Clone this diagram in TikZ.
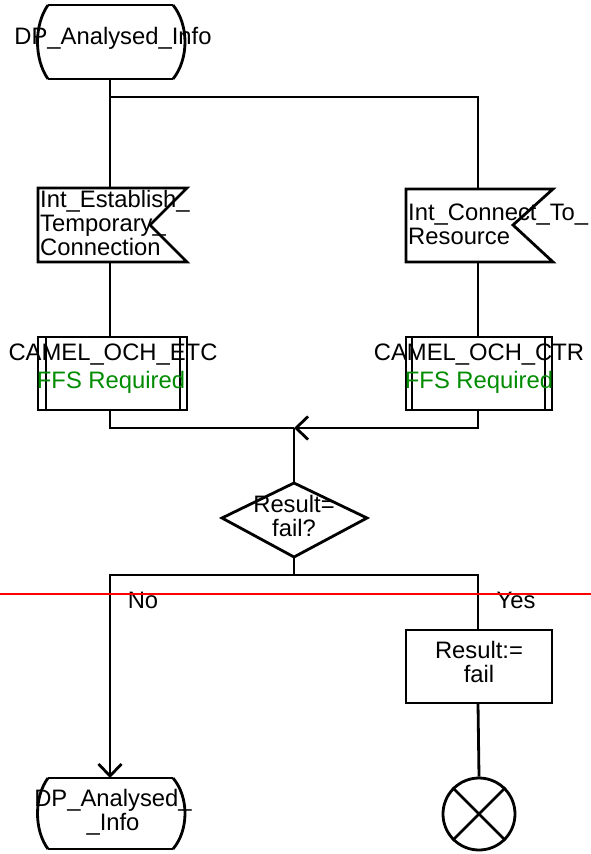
\documentclass[tikz,border=0pt]{standalone}
\usepackage{fontspec}
\setmainfont{Liberation Sans}
\usetikzlibrary{arrows.meta}
\definecolor{ffsgreen}{RGB}{0,140,0}
\tikzset{
  ln/.style={line width=2.8pt},
  txt/.style={font=\fontsize{23.8}{24}\selectfont, inner sep=0pt, align=center},
  vee/.style={-{Straight Barb[length=12pt,width=23pt,line width=2.8pt]}},
}
\begin{document}
\begin{tikzpicture}[x=1pt,y=-1pt]
\useasboundingbox (0,0) rectangle (591,854);
\fill[white] (0,0) rectangle (591,854);

% ---- top state
\draw[ln] (48,5) -- (173,5) (48,79) -- (173,79);
\draw[ln] (48,5) .. controls (34,25) and (34,59) .. (48,79);
\draw[ln] (173,5) .. controls (189,25) and (189,59) .. (173,79);
\node[txt] (st1) at (113,38) {DP\_Analysed\_Info};
\coordinate (st1b) at (110,79);
\coordinate (split) at (110,97);

% ---- input signals
\draw[ln] (38,188) -- (187,188) -- (150,225) -- (187,262) -- (38,262) -- cycle;
\node[txt, align=left, anchor=west] (in1) at (40,223) {Int\_Establish\_\\Temporary\_\\Connection};
\coordinate (in1t) at (110,188);
\coordinate (in1b) at (110,262);

\draw[ln] (406,189) -- (553,189) -- (513,225) -- (553,262) -- (406,262) -- cycle;
\node[txt, align=left, anchor=west] (in2) at (408,224) {Int\_Connect\_To\_\\Resource};
\coordinate (in2t) at (478,189);
\coordinate (in2b) at (478,262);

% ---- procedures
\draw[ln] (38,337) rectangle (187,410) (46,337) -- (46,410) (180,337) -- (180,410);
\node[txt] (p1) at (113,355) {CAMEL\_OCH\_ETC};
\node[txt, text=ffsgreen] (p1f) at (111,382) {FFS Required};
\coordinate (p1t) at (110,337);
\coordinate (p1b) at (110,410);

\draw[ln] (406,337) rectangle (552,410) (412,337) -- (412,410) (545,337) -- (545,410);
\node[txt] (p2) at (479,355) {CAMEL\_OCH\_CTR};
\node[txt, text=ffsgreen] (p2f) at (479,382) {FFS Required};
\coordinate (p2t) at (478,337);
\coordinate (p2b) at (478,410);

\coordinate (merge) at (294,428);

% ---- decision
\draw[ln] (294,483) -- (367,518) -- (294,557) -- (222,518) -- cycle;
\node[txt] (dec) at (294,516) {Result=\\fail?};
\coordinate (dect) at (294,483);
\coordinate (decb) at (294,557);
\coordinate (dsplit) at (294,575);
\node[txt] (no) at (143,600) {No};
\node[txt] (yes) at (516,600) {Yes};

% ---- task
\draw[ln] (406,630) rectangle (552,703);
\node[txt] (task) at (479,662) {Result:=\\fail};
\coordinate (taskt) at (478,630);
\coordinate (taskb) at (478,703);

% ---- stop
\node[circle, draw, ln, minimum size=72pt, inner sep=0pt] (stop) at (479,814) {};
\draw[ln] (stop.north west) -- (stop.south east) (stop.north east) -- (stop.south west);

% ---- bottom state
\draw[ln] (48,778) -- (173,778) (48,849) -- (173,849);
\draw[ln] (48,778) .. controls (34,797) and (34,830) .. (48,849);
\draw[ln] (173,778) .. controls (189,797) and (189,830) .. (173,849);
\node[txt] (st2) at (113,812) {DP\_Analysed\_\\\_Info};
\coordinate (st2t) at (110,778);

% ---- connectors
\draw[ln] (st1b) -- (in1t);
\draw[ln] (split) -| (in2t);
\draw[ln] (in1b) -- (p1t);
\draw[ln] (in2b) -- (p2t);
\draw[ln] (p1b) |- (merge);
\draw[ln, vee] (p2b) |- (merge);
\draw[ln] (merge) -- (dect);
\draw[ln] (decb) -- (dsplit);
\draw[ln, vee] (dsplit) -| (st2t);
\draw[ln] (dsplit) -| (taskt);
\draw[ln] (taskb) -- (stop.north);

% ---- red line
\draw[red, line width=1.3pt] (0,594) -- (591,594);
\end{tikzpicture}
\end{document}
